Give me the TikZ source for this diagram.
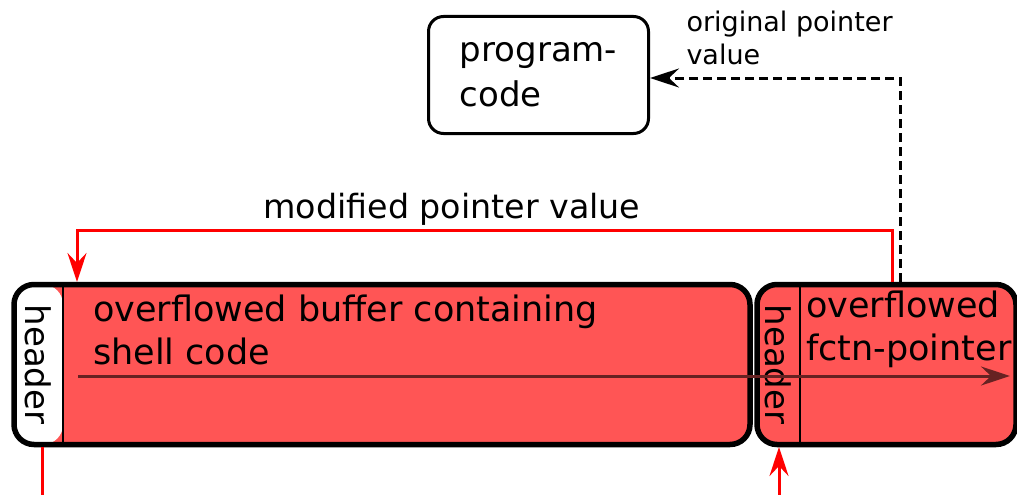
\documentclass[tikz,border=0pt]{standalone}
\usepackage{fontspec}
\setmainfont{DejaVu Sans}
\usepackage{xcolor}
\usetikzlibrary{positioning}
\usetikzlibrary{arrows.meta}

\definecolor{bufred}{RGB}{255,85,85}
\definecolor{flowcol}{RGB}{102,34,34}

\begin{document}
\begin{tikzpicture}[x=1pt, y=-1pt,
		block/.style={draw, line width=5.5pt, rounded corners=20pt, fill=bufred, outer sep=0pt, inner sep=0pt, minimum height=160pt},
		big/.style={font=\fontsize{35}{43}\selectfont, align=left, inner sep=0pt},
		hdr/.style={font=\fontsize{34}{43}\selectfont, rotate=-90, inner sep=0pt},
		redline/.style={draw=red, line width=3pt},
		tip/.style={-{Stealth[length=29pt, width=19pt, inset=10pt]}}]
		\useasboundingbox (0,0) rectangle (1017,495);
		\node[block, minimum width=736pt, path picture={
				\fill[white] (path picture bounding box.south west) rectangle ++(49pt,160pt);
				\draw[line width=2.5pt] ([xshift=49pt]path picture bounding box.south west) -- ++(0pt,160pt);}]
			(buf) at (382,364.5) {};
		\node[block, minimum width=259pt, right= 7pt of buf, path picture={
				\draw[line width=2.5pt] ([xshift=43pt]path picture bounding box.south west) -- ++(0pt,160pt);}]
			(fptr) {};
		\node[big, below right= 10pt and 79pt of buf.north west] (bufText) {overflowed buffer containing\\shell code};
		\node[big, below right= 6pt and 49pt of fptr.north west] (fptrText) {overflowed\\fctn-pointer};
		\node[hdr] (hdrA) at ([xshift=24.5pt]buf.west) {header};
		\node[hdr] (hdrB) at ([xshift=21.5pt]fptr.west) {header};
		\node[draw, line width=3pt, rounded corners=15pt, minimum width=220pt, minimum height=117pt, outer sep=0pt,
			align=left, font=\fontsize{34}{45}\selectfont] (prog) at (538.5,75) {program-\\code};
		% pointer arrows
		\coordinate (flowStart) at (78,376);
		\coordinate (flowEnd) at (1010,376);
		\path[draw, flowcol, line width=3pt, tip] (flowStart) -- (flowEnd);
		\path[redline, tip] ([xshift=135pt, yshift=2.5pt]fptr.north west) -- ++(0pt,52pt)
			-| node[pos=0.27, above, inner sep=3pt, font=\fontsize{33.3}{40}\selectfont] (modLabel) {modified pointer value}
			([xshift=63pt, yshift=2.5pt]buf.north west);
		\path[draw, line width=3pt, dash pattern=on 9pt off 5pt, tip] ([xshift=143pt, yshift=2.5pt]fptr.north west)
			|- node[pos=0.93, anchor=south west, inner sep=0pt, yshift=12pt, align=left, font=\fontsize{27}{33}\selectfont] (origLabel) {original pointer\\value}
			([xshift=1.5pt, yshift=-3pt]prog.east);
		\coordinate (inLeft) at (42,500);
		\coordinate (inRight) at (779,500);
		\path[redline] ([xshift=28pt, yshift=-2.5pt]buf.south west) -- (inLeft);
		\path[redline, tip] (inRight) -- ([xshift=22pt, yshift=-2.5pt]fptr.south west);
	\end{tikzpicture}
\end{document}
